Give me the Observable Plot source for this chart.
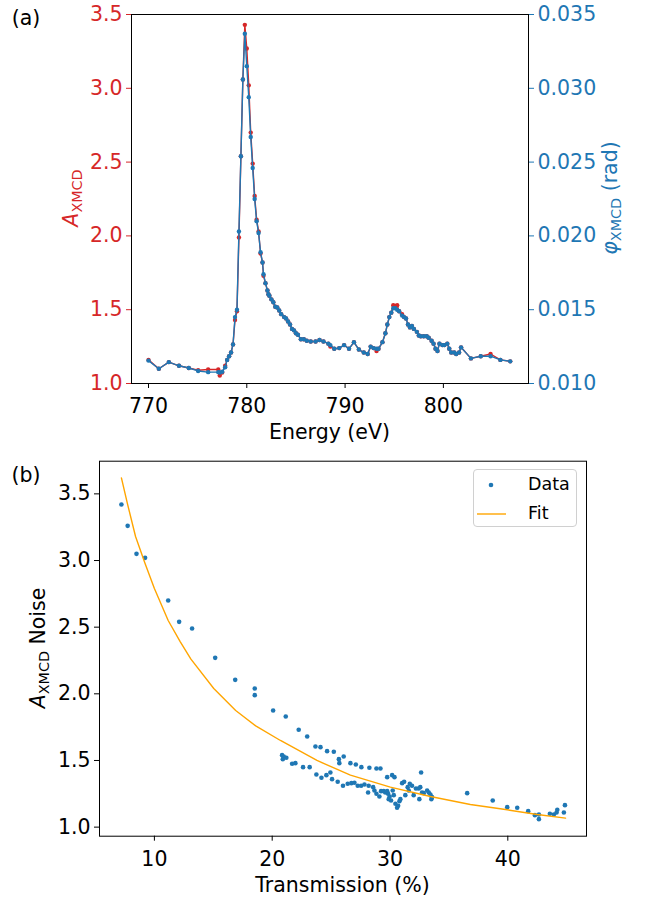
<!DOCTYPE html>
<html><head><meta charset="utf-8">
<script src="https://cdn.jsdelivr.net/npm/d3@7"></script>
<script src="https://cdn.jsdelivr.net/npm/@observablehq/plot@0.6"></script>
<style>
body{margin:0;background:#fff;font-family:"DejaVu Sans",sans-serif;}
#wrap{position:relative;width:645px;height:898px;overflow:hidden;background:#fff;}
#wrap svg{position:absolute;left:0;}
.lbl{position:absolute;white-space:nowrap;font-size:20.5px;color:#000;transform:translate(-50%,-50%);line-height:1;}
.rot{transform:translate(-50%,-50%) rotate(-90deg);}
sub{font-size:0.7em;vertical-align:-0.3em;}
.legend{position:absolute;left:473px;top:469px;width:104px;height:58px;border:1px solid #d0d0d0;border-radius:4px;background:rgba(255,255,255,0.8);box-sizing:border-box;font-size:17.5px;}
.legend span{position:absolute;line-height:1;}
</style></head>
<body><div id="wrap"></div>
<script>
// ---------- Panel (a) data ----------
const energy = [770.0,771.05,772.07,773.1,774.1,775.05,776.07,777.1,777.25,777.5,777.8,778.0,778.2,778.4,778.6,778.8,779.0,779.2,779.4,779.6,779.8,780.0,780.2,780.4,780.6,780.8,781.0,781.2,781.4,781.6,781.7,781.9,782.1,782.2,782.3,782.5,782.7,782.9,783.1,783.3,783.5,783.8,784.0,784.2,784.4,784.6,784.8,785.0,785.2,785.5,785.8,786.1,786.5,787.0,787.4,787.8,788.3,788.5,788.9,789.4,789.9,790.4,790.9,791.4,791.9,792.3,792.6,792.9,793.2,793.4,793.8,794.1,794.3,794.5,794.7,794.9,795.1,795.3,795.5,795.8,796.0,796.2,796.4,796.6,796.8,797.0,797.3,797.5,797.7,798.0,798.3,798.5,798.8,799.0,799.2,799.4,799.6,799.9,800.1,800.4,800.6,800.8,801.1,801.3,801.6,801.8,802.8,803.8,804.8,805.8,806.8];
const aXmcd = [1.160,1.100,1.145,1.120,1.105,1.090,1.095,1.095,1.054,1.075,1.120,1.160,1.185,1.210,1.265,1.430,1.490,1.990,2.540,3.060,3.430,3.270,3.020,2.700,2.490,2.270,2.110,2.030,1.880,1.820,1.730,1.680,1.630,1.605,1.595,1.570,1.550,1.520,1.515,1.495,1.470,1.450,1.440,1.420,1.400,1.370,1.360,1.340,1.330,1.300,1.300,1.290,1.285,1.285,1.295,1.285,1.270,1.250,1.235,1.240,1.260,1.235,1.280,1.230,1.210,1.200,1.250,1.240,1.220,1.235,1.280,1.340,1.400,1.450,1.480,1.530,1.525,1.530,1.490,1.470,1.450,1.440,1.400,1.380,1.390,1.370,1.350,1.325,1.320,1.320,1.320,1.310,1.290,1.270,1.235,1.220,1.270,1.260,1.260,1.270,1.235,1.210,1.210,1.200,1.210,1.245,1.170,1.185,1.200,1.160,1.150];
const phiXmcd = [0.01155,0.01100,0.01145,0.01120,0.01105,0.01085,0.01077,0.01077,0.01075,0.01080,0.01110,0.01160,0.01185,0.01210,0.01265,0.01450,0.01500,0.02030,0.02540,0.03060,0.03370,0.03150,0.02940,0.02670,0.02460,0.02250,0.02100,0.02020,0.01890,0.01820,0.01740,0.01680,0.01630,0.01605,0.01595,0.01570,0.01550,0.01520,0.01515,0.01495,0.01470,0.01450,0.01440,0.01420,0.01400,0.01370,0.01360,0.01340,0.01330,0.01300,0.01300,0.01290,0.01285,0.01285,0.01295,0.01285,0.01270,0.01260,0.01235,0.01240,0.01260,0.01235,0.01280,0.01230,0.01210,0.01200,0.01250,0.01240,0.01235,0.01235,0.01280,0.01340,0.01400,0.01450,0.01480,0.01510,0.01510,0.01500,0.01490,0.01460,0.01450,0.01440,0.01400,0.01380,0.01390,0.01370,0.01350,0.01325,0.01320,0.01320,0.01320,0.01310,0.01290,0.01270,0.01235,0.01220,0.01270,0.01260,0.01260,0.01270,0.01235,0.01210,0.01210,0.01200,0.01210,0.01245,0.01170,0.01185,0.01185,0.01160,0.01150];
const energyTicks = [770,780,790,800];
const aTicks = [1.0,1.5,2.0,2.5,3.0,3.5];

// ---------- Panel (b) data ----------
const transmission = [7.2,7.73,8.48,9.21,11.17,12.1,13.2,15.16,16.86,18.52,18.52,20.08,21.15,22.25,22.97,23.67,24.1,24.66,25.23,25.66,25.7,26.07,26.64,27.1,27.57,28.25,28.85,29.19,29.76,30.18,30.38,31.03,31.2,31.68,32.64,20.84,20.98,20.9,21.2,21.69,21.97,22.62,23.18,23.75,24.18,24.6,24.94,25.08,25.56,26.01,26.41,26.72,26.98,27.26,27.55,27.83,28.19,28.14,28.57,28.68,28.85,29.1,29.24,29.47,29.6,29.76,29.84,29.89,29.97,30.09,30.23,30.32,30.46,30.6,30.69,30.8,30.88,31.3,31.5,31.59,31.87,32.01,32.2,32.43,32.49,32.57,32.72,32.86,33.15,33.29,33.43,33.51,33.57,36.55,38.72,39.95,40.8,41.73,42.3,42.64,42.64,43.57,43.91,44.14,44.2,44.76,44.85];
const noise = [3.42,3.26,3.05,3.02,2.70,2.54,2.49,2.27,2.105,2.04,1.99,1.875,1.83,1.73,1.68,1.605,1.60,1.57,1.565,1.51,1.48,1.53,1.48,1.47,1.45,1.445,1.44,1.44,1.375,1.39,1.375,1.33,1.34,1.325,1.41,1.54,1.53,1.51,1.52,1.475,1.48,1.45,1.45,1.395,1.37,1.39,1.41,1.36,1.34,1.31,1.325,1.33,1.333,1.31,1.31,1.32,1.31,1.26,1.30,1.275,1.25,1.23,1.27,1.27,1.26,1.27,1.25,1.21,1.23,1.20,1.275,1.24,1.175,1.145,1.16,1.195,1.21,1.24,1.30,1.275,1.31,1.24,1.29,1.29,1.21,1.30,1.26,1.255,1.275,1.26,1.245,1.21,1.225,1.255,1.20,1.15,1.145,1.12,1.09,1.095,1.06,1.10,1.095,1.11,1.13,1.11,1.165];
const fitT = [7.2,7.7,8.4,9.2,10.0,11.17,12.2,13.1,15.04,16.9,18.6,20.7,23.8,26.64,30.03,33.43,36.82,39.95,42.5,44.9];
const fitN = [3.62,3.43,3.18,2.98,2.79,2.55,2.39,2.26,2.04,1.875,1.76,1.65,1.50,1.39,1.30,1.23,1.17,1.13,1.095,1.068];
const tTicks = [10,20,30,40];
const nTicks = [1.0,1.5,2.0,2.5,3.0,3.5];

const red = "#d62728", blue = "#1f77b4", orange = "#ffa500";
const FS = 20.5;
const wrap = document.getElementById("wrap");

const axisCommon = {tickSize: 5, tickPadding: 4, label: null, fontSize: FS};
const axisXCommon = {tickSize: 5, tickPadding: 10, label: null, fontSize: FS};

const topPlot = Plot.plot({
  width: 645, height: 450,
  marginTop: 14, marginBottom: 67, marginLeft: 131, marginRight: 117,
  x: {domain: [768.27, 808.66]},
  y: {domain: [1, 3.5]},
  style: {fontFamily: "DejaVu Sans", fontSize: FS + "px", background: "transparent", overflow: "visible"},
  marks: [
    Plot.line(energy, {x: energy, y: aXmcd, stroke: red, strokeWidth: 1.4}),
    Plot.dot(energy, {x: energy, y: aXmcd, r: 2.2, fill: red, stroke: "none"}),
    Plot.line(energy, {x: energy, y: phiXmcd.map(p => p * 100), stroke: blue, strokeWidth: 1.4}),
    Plot.dot(energy, {x: energy, y: phiXmcd.map(p => p * 100), r: 2.2, fill: blue, stroke: "none"}),
    Plot.frame({stroke: "#000", strokeWidth: 1}),
    Plot.axisX({...axisXCommon, ticks: energyTicks, tickFormat: d => String(d), fill: "#000", stroke: "#000"}),
    Plot.axisY({...axisCommon, ticks: aTicks, tickFormat: d => d.toFixed(1), fill: red, stroke: red}),
    Plot.axisY({...axisCommon, anchor: "right", ticks: aTicks, tickFormat: d => (d / 100).toFixed(3), fill: blue, stroke: blue})
  ]
});
topPlot.style.top = "0px";
wrap.appendChild(topPlot);

const botPlot = Plot.plot({
  width: 645, height: 448,
  marginTop: 10.7, marginBottom: 62.3, marginLeft: 99, marginRight: 59,
  x: {domain: [5.34, 46.68]},
  y: {domain: [0.932, 3.745]},
  style: {fontFamily: "DejaVu Sans", fontSize: FS + "px", background: "transparent", overflow: "visible"},
  marks: [
    Plot.dot(transmission, {x: transmission, y: noise, r: 2.3, fill: blue, stroke: "none"}),
    Plot.line(fitT, {x: fitT, y: fitN, stroke: orange, strokeWidth: 1.4}),
    Plot.frame({stroke: "#000", strokeWidth: 1}),
    Plot.axisX({...axisXCommon, ticks: tTicks, tickFormat: d => String(d), fill: "#000", stroke: "#000"}),
    Plot.axisY({...axisCommon, ticks: nTicks, tickFormat: d => d.toFixed(1), fill: "#000", stroke: "#000"})
  ]
});
botPlot.style.top = "450px";
wrap.appendChild(botPlot);

function addLabel(html, x, y, rot, color) {
  const d = document.createElement("div");
  d.className = "lbl" + (rot ? " rot" : "");
  d.style.left = x + "px"; d.style.top = y + "px";
  if (color) d.style.color = color;
  d.innerHTML = html;
  wrap.appendChild(d);
}
addLabel("(a)", 26, 18, false);
addLabel("(b)", 26, 475, false);
addLabel("<i>A</i><sub>XMCD</sub>", 73, 198, true, red);
addLabel("<i>φ</i><sub>XMCD</sub> (rad)", 612, 198, true, blue);
addLabel("Energy (eV)", 329.5, 432, false);
addLabel("<i>A</i><sub>XMCD</sub> Noise", 40, 648, true);
addLabel("Transmission (%)", 342.5, 885, false);

// legend
const lg = document.createElement("div");
lg.className = "legend";
lg.innerHTML =
  '<svg width="104" height="58" style="position:absolute;left:0;top:0">' +
  '<circle cx="17" cy="15" r="2.3" fill="' + blue + '"/>' +
  '<line x1="3" x2="32" y1="44" y2="44" stroke="' + orange + '" stroke-width="1.4"/></svg>' +
  '<span style="left:54px;top:6px">Data</span>' +
  '<span style="left:54px;top:35px">Fit</span>';
wrap.appendChild(lg);
</script>
</body></html>
